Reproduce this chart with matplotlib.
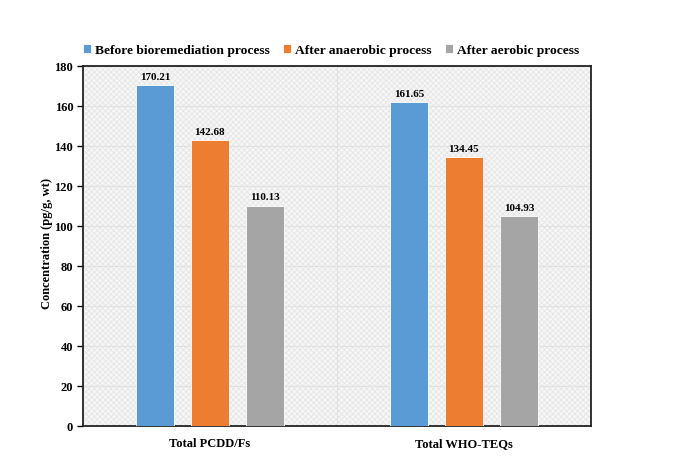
import matplotlib
matplotlib.use("Agg")
import matplotlib.pyplot as plt
import numpy as np

categories = ["Total PCDD/Fs", "Total WHO-TEQs"]
series_names = ["Before bioremediation process", "After anaerobic process", "After aerobic process"]
before = [170.21, 161.65]
anaerobic = [142.68, 134.45]
aerobic = [110.13, 104.93]
colors = ["#5B9BD5", "#ED7D31", "#A5A5A5"]
yticks = [0, 20, 40, 60, 80, 100, 120, 140, 160, 180]

plt.rcParams['font.family'] = ['Liberation Serif', 'DejaVu Serif']
plt.rcParams['font.weight'] = 'bold'
plt.rcParams['hatch.linewidth'] = 0.5

fig = plt.figure(figsize=(6.8, 4.77), dpi=100)
ax = fig.add_axes([0.122, 0.105, 0.747, 0.755])
ax.set_facecolor('#f6f6f6')
bg = plt.Rectangle((0, 0), 1, 1, transform=ax.transAxes, facecolor='#f6f6f6',
                   edgecolor='#e4e4e4', hatch='xxxxxx', linewidth=0, zorder=0)
ax.add_patch(bg)

x = np.arange(len(categories))
w = 0.152
step = 0.217
all_series = [before, anaerobic, aerobic]
for i, (vals, name, c) in enumerate(zip(all_series, series_names, colors)):
    pos = x + (i - 1) * step
    bars = ax.bar(pos, vals, w, color=c, label=name, edgecolor='white', linewidth=0.6, zorder=3)
    for b, v in zip(bars, vals):
        ax.text(b.get_x() + b.get_width() / 2, v + 2.2, f"{v:.2f}", ha='center', va='bottom',
                fontsize=8, fontweight='bold', zorder=4)

ax.set_xlim(-0.5, 1.5)
ax.set_ylim(0, 180)
ax.set_yticks(yticks)
ax.set_yticklabels([str(t) for t in yticks], fontsize=9, fontweight='bold')
ax.set_xticks(x)
ax.set_xticklabels(categories, fontsize=9, fontweight='bold')
ax.tick_params(axis='x', length=0, pad=8)
ax.tick_params(axis='y', length=4, width=1, direction='out', pad=3)
ax.yaxis.grid(True, color='#e2e2e2', linewidth=0.8, zorder=1)
ax.axvline(0.5, color='#e2e2e2', linewidth=0.8, zorder=1)
ax.set_axisbelow(True)
for s in ax.spines.values():
    s.set_linewidth(1.3)
    s.set_color('#222222')

ax.set_ylabel("Concentration (pg/g, wt)", fontsize=9, fontweight='bold', labelpad=1)
ax.yaxis.set_label_coords(-0.058, 0.51)

leg = fig.legend(loc='center', bbox_to_anchor=(0.487, 0.893), ncol=3, frameon=False,
                 handlelength=0.6, handleheight=0.6, handletextpad=0.3,
                 columnspacing=1.0, prop={'weight': 'bold', 'size': 9.7})

fig.savefig("out.png", dpi=100)
